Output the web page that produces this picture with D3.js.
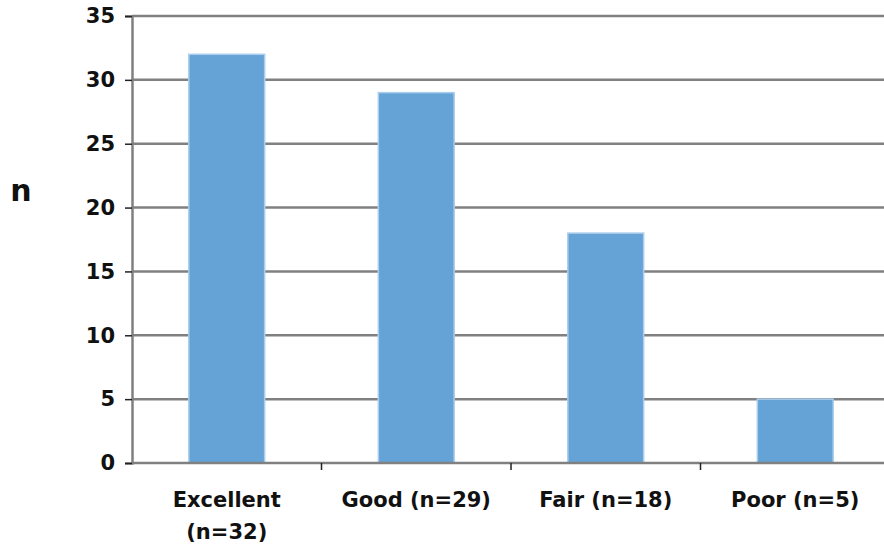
<!DOCTYPE html>
<html>
<head>
<meta charset="utf-8">
<script src="https://cdn.jsdelivr.net/npm/d3@7"></script>
<style>
  body { margin: 0; background: #fff; }
  svg text { font-family: "DejaVu Sans", sans-serif; font-weight: bold; fill: #111; }
</style>
</head>
<body>
<div id="chart"></div>
<script>
// chart values
const categories = ["Excellent (n=32)", "Good (n=29)", "Fair (n=18)", "Poor (n=5)"];
const labelLines = [["Excellent", "(n=32)"], ["Good (n=29)"], ["Fair (n=18)"], ["Poor (n=5)"]];
const counts = [32, 29, 18, 5];
const yTicks = [0, 5, 10, 15, 20, 25, 30, 35];

const width = 884, height = 548;
const margin = { left: 132, top: 16, right: -6, bottom: 85 };

const svg = d3.select('#chart').append('svg')
    .attr('width', width)
    .attr('height', height);

const x = d3.scaleBand()
    .domain(categories)
    .range([margin.left, width - margin.right])
    .paddingInner(0.6)
    .paddingOuter(0.3);

const y = d3.scaleLinear()
    .domain([0, 35])
    .range([height - margin.bottom, margin.top]);

// gridlines
svg.append('g')
  .selectAll('line')
  .data(yTicks.filter(d => d > 0))
  .enter().append('line')
    .attr('x1', margin.left)
    .attr('x2', width)
    .attr('y1', d => y(d))
    .attr('y2', d => y(d))
    .attr('stroke', '#808080')
    .attr('stroke-width', 2.5);

// bars
svg.append('g')
  .selectAll('rect')
  .data(counts)
  .enter().append('rect')
    .attr('x', (d, i) => x(categories[i]))
    .attr('y', d => y(d))
    .attr('width', x.bandwidth())
    .attr('height', d => y(0) - y(d))
    .attr('fill', '#65a3d7')
    .attr('stroke', '#a9cdec')
    .attr('stroke-width', 1.5);

// y axis
const yAxis = svg.append('g')
    .attr('transform', 'translate(' + margin.left + ',0)')
    .call(d3.axisLeft(y).tickValues(yTicks).tickSize(7).tickPadding(10));
yAxis.select('.domain').attr('stroke', '#808080').attr('stroke-width', 2.5);
yAxis.selectAll('.tick line').attr('stroke', '#222').attr('stroke-width', 1.5);
yAxis.selectAll('.tick text').style('font-size', '21px');

// x axis, ticks sit between categories
const step = x.step();
const xAxis = svg.append('g')
    .attr('transform', 'translate(0,' + y(0) + ')');
xAxis.append('line')
    .attr('x1', margin.left).attr('x2', width)
    .attr('stroke', '#808080').attr('stroke-width', 2.5);
xAxis.selectAll('.sep')
  .data(categories.slice(1))
  .enter().append('line')
    .attr('class', 'sep')
    .attr('x1', d => x(d) - step * x.paddingInner() / 2)
    .attr('x2', d => x(d) - step * x.paddingInner() / 2)
    .attr('y1', 0).attr('y2', 7)
    .attr('stroke', '#222').attr('stroke-width', 1.5);

// category labels
svg.append('g')
  .selectAll('text')
  .data(categories)
  .enter().append('text')
    .attr('y', 507)
    .attr('text-anchor', 'middle')
    .style('font-size', '21px')
    .each(function(d, i) {
      d3.select(this).selectAll('tspan')
        .data(labelLines[i])
        .enter().append('tspan')
          .attr('x', x(d) + x.bandwidth() / 2)
          .attr('dy', (t, j) => j === 0 ? 0 : 32)
          .text(t => t);
    });

// y axis title
svg.append('text')
    .attr('x', 21)
    .attr('y', 201)
    .attr('text-anchor', 'middle')
    .style('font-size', '30px')
    .text('n');
</script>
</body>
</html>
